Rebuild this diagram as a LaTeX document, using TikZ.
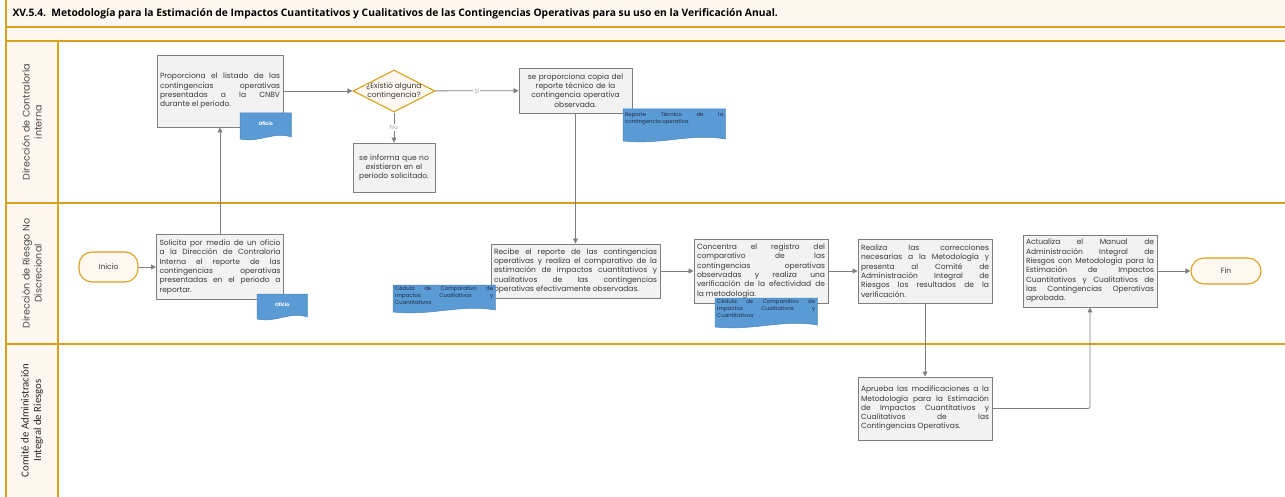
\documentclass[tikz,border=0pt]{standalone}
\usepackage{fontspec}
\setmainfont{Poppins}
\newfontfamily\lanefont{Carlito}
\newfontfamily\titlefont{Open Sans}
\usetikzlibrary{arrows.meta,backgrounds,calc,positioning,shapes.geometric}
\definecolor{FlujoGold}{HTML}{D6A21E}
\definecolor{FlujoPale}{HTML}{FEF7EF}
\definecolor{FlujoBox}{HTML}{F2F2F2}
\definecolor{FlujoLine}{HTML}{7F7F7F}
\definecolor{FlujoText}{HTML}{3A3A3A}
\definecolor{FlujoCream}{HTML}{FEF8F0}
\definecolor{FlujoDoc}{HTML}{5B9BD5}
\definecolor{FlujoDocLine}{HTML}{4A83BC}
\definecolor{FlujoDocText}{HTML}{1F2A44}
\definecolor{FlujoLabel}{HTML}{A6A6A6}
\definecolor{FlujoLane}{HTML}{4A4A4A}
\pgfdeclarelayer{docfill}
\pgfdeclarelayer{doctext}
\pgfsetlayers{background,main,docfill,doctext}
\hyphenpenalty=10000
\exhyphenpenalty=10000
\tolerance=9999
\hbadness=10000
\hfuzz=20pt
\tikzset{
  >=Latex,
  lane/.style={draw=FlujoGold,line width=1.3pt},
  lanelabel/.style={rotate=90,align=center,text=FlujoLane,font=\fontsize{9.6}{12}\selectfont},
  titletext/.style={font=\titlefont\bfseries\fontsize{10.3}{12}\selectfont,text=black},
  procbox/.style={draw=FlujoLine,line width=0.9pt,fill=FlujoBox,text=FlujoText,
    align=justify,inner sep=3pt,font=\fontsize{7.5}{9.3}\selectfont},
  procmid/.style={procbox,align=center},
  terminal/.style={draw=FlujoGold,line width=1.1pt,fill=FlujoCream,rounded corners=13pt,
    text=FlujoText,font=\fontsize{7.5}{9}\selectfont},
  decision/.style={diamond,aspect=2,draw=FlujoGold,line width=1.1pt,fill=FlujoCream,
    minimum width=82pt,minimum height=42pt,inner xsep=-4pt,inner ysep=-3pt,
    align=center,text=FlujoText,font=\fontsize{7.5}{8.6}\selectfont},
  docnode/.style={anchor=north west,inner xsep=2pt,inner ysep=3pt,align=justify,
    text=FlujoDocText,font=\fontsize{5.4}{6.6}\selectfont},
  docshape/.style={fill=FlujoDoc,draw=FlujoDocLine,line width=0.5pt},
  flow/.style={-{Triangle[length=5pt,width=5pt]},draw=FlujoLine,line width=0.8pt},
  flowlabel/.style={fill=white,inner sep=1pt,text=FlujoLabel,font=\fontsize{6}{6.5}\selectfont}
}
% documento con borde ondulado bajo el nodo
\newcommand{\docwave}[2]{%
  \draw[docshape] (#1.north west) -- (#1.north east) -- ($(#1.north east)+(0,#2-3)$)
    .. controls ($(#1.north east)!0.35!(#1.north west)+(0,#2-9)$)
    and ($(#1.north east)!0.6!(#1.north west)+(0,#2+3)$)
    .. ($(#1.north west)+(0,#2-1)$) -- cycle;}

\begin{document}
\begin{tikzpicture}[x=1pt,y=-1pt]
  \useasboundingbox (0,0) rectangle (1285,497);

  \node[titletext,anchor=west] (titulo) at (9,13.5)
    {XV.5.4.\enspace Metodología para la Estimación de Impactos Cuantitativos y Cualitativos de las Contingencias Operativas para su uso en la Verificación Anual.};

  \node[lanelabel] (carril1) at (32,122) {Dirección de Contraloría\\interna};
  \node[lanelabel] (carril2) at (32,273.5) {Dirección de Riesgo No\\Discrecional};
  \node[lanelabel,font=\lanefont\fontsize{10.8}{12.5}\selectfont,text=black!85] (carril3) at (32,420.5)
    {Comité de Administración\\Integral de Riesgos};

  % Contraloria
  \node[procbox,text width=120pt,minimum height=72pt] (listado) at (220,91)
    {Proporciona el listado de las\linebreak contingencias operativas\linebreak presentadas a la CNBV\linebreak durante el periodo.};
  \node[decision] (existio) at (394,91) {¿Existió alguna\\contingencia?};
  \node[procmid,text width=76pt,minimum height=49pt] (informa) at (394,167.5)
    {se informa que no\\existieron en el\\periodo solicitado.};
  \node[procmid,text width=107pt,minimum height=45pt] (copia) at (575.5,90.5)
    {se proporciona copia del\\reporte técnico de la\\contingencia operativa\\observada.};

  % Riesgo No Discrecional
  \node[terminal,minimum width=59pt,minimum height=30pt] (inicio) at (108.5,267) {Inicio};
  \node[procbox,text width=121pt,minimum height=65pt] (solicita) at (220,267)
    {Solicita por medio de un oficio\linebreak a la Dirección de Contraloría\linebreak Interna el reporte de las\linebreak contingencias operativas\linebreak presentadas en el periodo a\linebreak reportar.};
  \node[procbox,text width=163pt,minimum height=54pt] (recibe) at (575.5,271)
    {Recibe el reporte de las contingencias\linebreak operativas y realiza el comparativo de la\linebreak estimación de impactos cuantitativos y\linebreak cualitativos de las contingencias\linebreak operativas efectivamente observadas.};
  \node[procbox,text width=128pt,minimum height=64pt] (concentra) at (761,271)
    {Concentra el registro del\linebreak comparativo de las\linebreak contingencias operativas\linebreak observadas y realiza una\linebreak verificación de la efectividad de\linebreak la metodología.};
  \node[procbox,text width=128pt,minimum height=64pt] (realiza) at (925,271)
    {Realiza las correcciones\linebreak necesarias a la Metodología y\linebreak presenta al Comité de\linebreak Administración Integral de\linebreak Riesgos los resultados de la\linebreak verificación.};
  \node[procbox,text width=128pt,minimum height=72pt] (actualiza) at (1090,271)
    {Actualiza el Manual de\linebreak Administración Integral de\linebreak Riesgos con Metodología para la\linebreak Estimación de Impactos\linebreak Cuantitativos y Cualitativos de\linebreak las Contingencias Operativas\linebreak aprobada.};
  \node[terminal,minimum width=70pt,minimum height=26pt] (fin) at (1226,271) {Fin};

  % Comite
  \node[procbox,text width=128pt,minimum height=63pt] (aprueba) at (925,408.5)
    {Aprueba las modificaciones a la\linebreak Metodología para la Estimación\linebreak de Impactos Cuantitativos y\linebreak Cualitativos de las\linebreak Contingencias Operativas.};

  % documentos
  \begin{pgfonlayer}{doctext}
    \node[docnode,text width=47pt,align=center,inner ysep=8pt,text=white,
      font=\bfseries\fontsize{4.8}{5}\selectfont] (oficio1) at (240,113) {Oficio};
    \node[docnode,text width=46pt,align=center,inner ysep=8pt,text=white,
      font=\bfseries\fontsize{4.8}{5}\selectfont] (oficio2) at (257,294) {Oficio};
    \node[docnode,text width=98pt] (reporte) at (623,109)
      {Reporte Técnico de la\linebreak contingencia operativa.};
    \node[docnode,text width=98pt,inner ysep=1.5pt] (cedula1) at (393,285)
      {Cédula de Comparativo de\linebreak Impactos Cualitativos y\linebreak Cuantitativos};
    \node[docnode,text width=98pt,inner ysep=1.5pt] (cedula2) at (715,298)
      {Cédula de Comparativo de\linebreak Impactos Cualitativos y\linebreak Cuantitativos};
  \end{pgfonlayer}
  \begin{pgfonlayer}{docfill}
    \docwave{oficio1}{27}
    \docwave{oficio2}{26}
    \docwave{reporte}{33}
    \docwave{cedula1}{28}
    \docwave{cedula2}{30}
  \end{pgfonlayer}

  \draw[flow] (inicio) -- (solicita);
  \draw[flow] (solicita) -- (listado);
  \draw[flow] (listado) -- (existio);
  \draw[flow] (existio) -- node[flowlabel] {Sí} (copia);
  \draw[flow] (existio) -- node[flowlabel] {No} (informa);
  \draw[flow] (copia) -- (recibe);
  \draw[flow] (recibe) -- (concentra);
  \draw[flow] (concentra) -- (realiza);
  \draw[flow] (realiza) -- (aprueba);
  \draw[flow,rounded corners=2pt] (aprueba.east) -| (actualiza.south);
  \draw[flow] (actualiza) -- (fin);

  \begin{scope}[on background layer]
    \fill[FlujoPale] (6,0) rectangle (1285,41);
    \fill[FlujoPale] (6,41) rectangle (58,497);
    \draw[lane] (6,0) -- (6,497);
    \draw[lane] (58,41) -- (58,497);
    \draw[lane] (6,27) -- (1285,27);
    \draw[lane] (6,41) -- (1285,41);
    \draw[lane] (6,203) -- (1285,203);
    \draw[lane] (6,344) -- (1285,344);
  \end{scope}
\end{tikzpicture}
\end{document}
